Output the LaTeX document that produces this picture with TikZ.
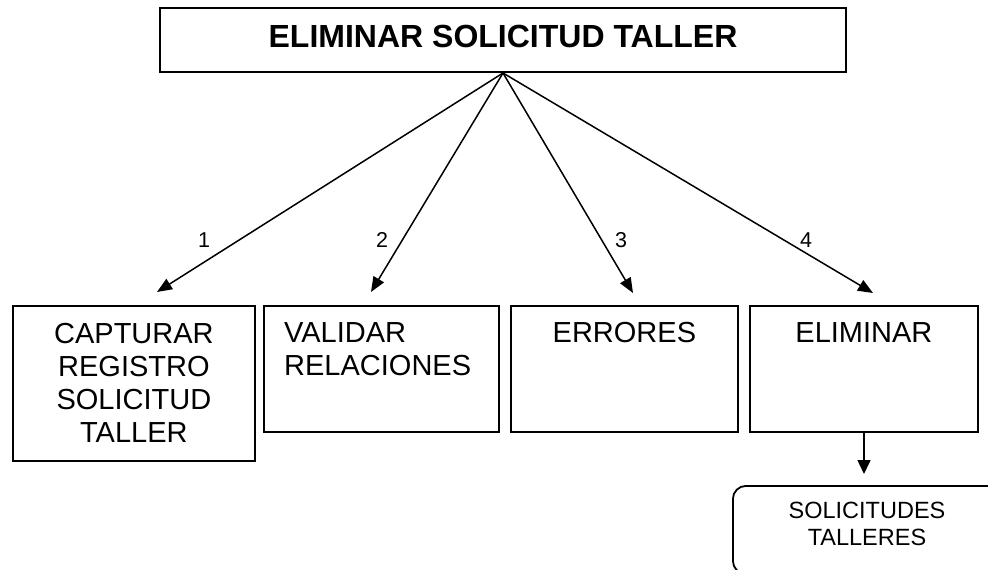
\documentclass[tikz,border=0pt]{standalone}
\usepackage{fontspec}
\setmainfont{Liberation Sans}
\usetikzlibrary{positioning, arrows.meta}

\begin{document}
\begin{tikzpicture}[x=1pt, y=-1pt,
    box/.style={draw, line width=1.8pt, anchor=north west, inner sep=0pt},
    boxtext/.style={font=\fontsize{29}{33}\selectfont, align=center, inner sep=0pt},
    flow/.style={-{Triangle[length=15pt, width=12pt]}, line width=1.5pt},
    num/.style={font=\fontsize{21.5}{24}\selectfont, inner sep=0pt}]
    \useasboundingbox (0,0) rectangle (988,570);
    \clip (0,0) rectangle (988,570);

    % Main process
    \node[draw, line width=2pt, minimum width=686pt, minimum height=64pt, text depth=8pt,
      font=\fontsize{32}{36}\selectfont\bfseries] (titulo) at (503,40) {ELIMINAR SOLICITUD TALLER};

    % Sub processes
    \node[box, minimum width=242pt, minimum height=155pt] (capturar) at (12,305) {};
    \node[boxtext, below=18pt of capturar.north] (capturartxt) {CAPTURAR\\REGISTRO\\SOLICITUD\\TALLER};

    \node[box, minimum width=235pt, minimum height=126pt] (validar) at (263,305) {};
    \node[boxtext, align=left, below right=17pt and 21pt of validar.north west] (validartxt) {VALIDAR\\RELACIONES};

    \node[box, minimum width=227pt, minimum height=126pt] (errores) at (510,305) {};
    \node[boxtext, below=17pt of errores.north] (errorestxt) {ERRORES};

    \node[box, minimum width=228pt, minimum height=126pt] (eliminar) at (749,305) {};
    \node[boxtext, below=17pt of eliminar.north] (eliminartxt) {ELIMINAR};

    % Arrows
    \coordinate (p1) at (157,292);
    \coordinate (p2) at (371,292);
    \coordinate (p3) at (633,293);
    \coordinate (p4) at (873,293);
    \foreach \p in {p1, p2, p3, p4} {
      \draw[flow] (titulo.south) -- (\p);
    }
    \node[num] (n1) at (204,240) {1};
    \node[num] (n2) at (382,240) {2};
    \node[num] (n3) at (621,240) {3};
    \node[num] (n4) at (806,240) {4};

    % Data store
    \node[draw, line width=1.8pt, rounded corners=13pt, minimum width=290pt, minimum height=88pt,
      anchor=north west] (solicitudes) at (732,485) {};
    \node[font=\fontsize{23.5}{27}\selectfont, align=center, inner sep=0pt, anchor=north] (solicitudestxt) at (867,502) {SOLICITUDES\\TALLERES};
    \coordinate (p5) at (864,474);
    \draw[flow, -{Triangle[length=14pt, width=13pt]}] (eliminar.south -| p5) -- (p5);
  \end{tikzpicture}
\end{document}
